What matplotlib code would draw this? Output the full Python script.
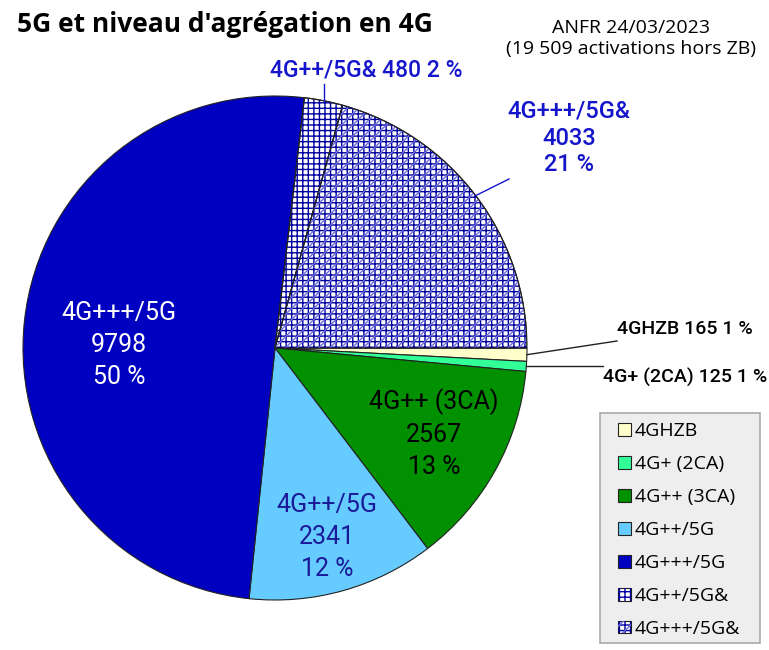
import matplotlib.pyplot as plt
from matplotlib.patches import Wedge, Rectangle
from matplotlib.legend_handler import HandlerTuple
import numpy as np

# données ANFR 24/03/2023
categories = ['4GHZB', '4G+ (2CA)', '4G++ (3CA)', '4G++/5G', '4G+++/5G', '4G++/5G&', '4G+++/5G&']
activations = [165, 125, 2567, 2341, 9798, 480, 4033]
percents = [1, 1, 13, 12, 50, 2, 21]
colors = ['#ffffcc', '#33ff99', '#009000', '#66ccff', '#0000c0', '#ffffff', '#ffffff']
hatches = [None, None, None, None, None, '+++', '+++']
diag_hatch = [None, None, None, None, None, None, '///']

W, H = 769, 650


def px(x, y):  # pixels image -> coordonnées du camembert (centre 275,348 rayon 252)
    return (x - 275) / 252, (348 - y) / 252


def mid_point(w, r=1.0):
    a = np.radians((w.theta1 + w.theta2) / 2)
    return r * np.cos(a), r * np.sin(a)


def main():
    plt.rcParams['hatch.linewidth'] = 1.0
    fig = plt.figure(figsize=(W / 100, H / 100), dpi=100)
    ax = fig.add_axes([23 / W, 50 / H, 504 / W, 504 / H])

    wedges, _ = ax.pie(activations, colors=colors, startangle=0, counterclock=False,
                       radius=1, wedgeprops=dict(edgecolor='#222222', linewidth=0.8))
    ax.set_xlim(-1, 1)
    ax.set_ylim(-1, 1)
    ax.set_aspect('equal')
    ax.axis('off')

    handles = []
    for i, w in enumerate(wedges):
        h = [w]
        if hatches[i]:
            g = Wedge(w.center, w.r, w.theta1, w.theta2, facecolor='none',
                      edgecolor='#0000a0', linewidth=0, hatch=hatches[i])
            ax.add_patch(g)
            h.append(g)
        if diag_hatch[i]:
            d = Wedge(w.center, w.r, w.theta1, w.theta2, facecolor='none',
                      edgecolor='#7070dd', linewidth=0, hatch=diag_hatch[i])
            ax.add_patch(d)
            h.append(d)
        if hatches[i]:
            o = Wedge(w.center, w.r, w.theta1, w.theta2, facecolor='none',
                      edgecolor='#222222', linewidth=0.8)
            ax.add_patch(o)
        handles.append(tuple(h) if len(h) > 1 else w)

    lab = {'family': 'Roboto', 'fontsize': 18, 'ha': 'center', 'va': 'center',
           'linespacing': 1.42}
    # étiquettes intérieures
    x, y = px(119, 345)
    ax.text(x, y, '%s\n%d\n%d %%' % (categories[4], activations[4], percents[4]), color='white', **lab)
    x, y = px(434, 434)
    ax.text(x, y, '%s\n%d\n%d %%' % (categories[2], activations[2], percents[2]), color='black', **lab)
    x, y = px(327, 537)
    ax.text(x, y, '%s\n%d\n%d %%' % (categories[3], activations[3], percents[3]), color='#1a1a99', **lab)

    # étiquettes extérieures
    blue = '#1515cc'
    x, y = px(569, 138)
    ax.text(x, y, '%s\n%d\n%d %%' % (categories[6], activations[6], percents[6]), color=blue,
            family='Roboto', fontweight='medium', fontsize=17, ha='center', va='center',
            linespacing=1.22, clip_on=False)
    x0, y0 = mid_point(wedges[6])
    x1, y1 = px(509, 179)
    ax.plot([x0, x1], [y0, y1], color=blue, lw=1, clip_on=False)

    x, y = px(366, 70)
    ax.text(x, y, '%s %d %d %%' % (categories[5], activations[5], percents[5]), color=blue,
            family='Roboto', fontweight='medium', fontsize=16.5, ha='center', va='center', clip_on=False)
    x0, y0 = mid_point(wedges[5])
    ax.plot([x0, x0], [y0, px(0, 84)[1]], color=blue, lw=1, clip_on=False)

    x, y = px(617, 329)
    ax.text(x, y, '%s %d %d %%' % (categories[0], activations[0], percents[0]), color='black',
            family='Roboto', fontweight='medium', fontsize=14, ha='left', va='center', clip_on=False)
    x0, y0 = mid_point(wedges[0])
    x1, y1 = px(617, 341)
    ax.plot([x0, x1], [y0, y1], color='#222222', lw=1, clip_on=False)

    x, y = px(603, 377)
    ax.text(x, y, '%s %d %d %%' % (categories[1], activations[1], percents[1]), color='black',
            family='Roboto', fontweight='medium', fontsize=14, ha='left', va='center', clip_on=False)
    x0, y0 = mid_point(wedges[1])
    x1, y1 = px(603, 0)[0], y0
    ax.plot([x0, x1], [y0, y1], color='#222222', lw=1, clip_on=False)

    # titres
    fig.text(17 / W, 1 - 24 / H, "5G et niveau d'agrégation en 4G", family='Open Sans',
             fontweight='bold', fontsize=19, ha='left', va='center')
    fig.text(631 / W, 1 - 38.5 / H, 'ANFR 24/03/2023\n(19 509 activations hors ZB)',
             family='Open Sans', fontsize=14, ha='center', va='center', linespacing=1.2)

    # cadre de la légende
    fig.add_artist(Rectangle((600 / W, 7 / H), 160 / W, 230 / H, transform=fig.transFigure,
                             facecolor='#eeeeee', edgecolor='#aaaaaa', linewidth=1.2, zorder=1))
    fig.legend(handles, categories, loc='upper left',
               bbox_to_anchor=(618 / W, 1 - 422 / H),
               handler_map={tuple: HandlerTuple(ndivide=1)},
               prop={'family': 'Open Sans', 'size': 14},
               handlelength=0.65, handleheight=0.65, handletextpad=0.2,
               labelspacing=0.77, borderpad=0, borderaxespad=0, frameon=False)

    fig.savefig('out.png', dpi=100)


#-----------------------------------------------------
if __name__ == '__main__':
    main()
